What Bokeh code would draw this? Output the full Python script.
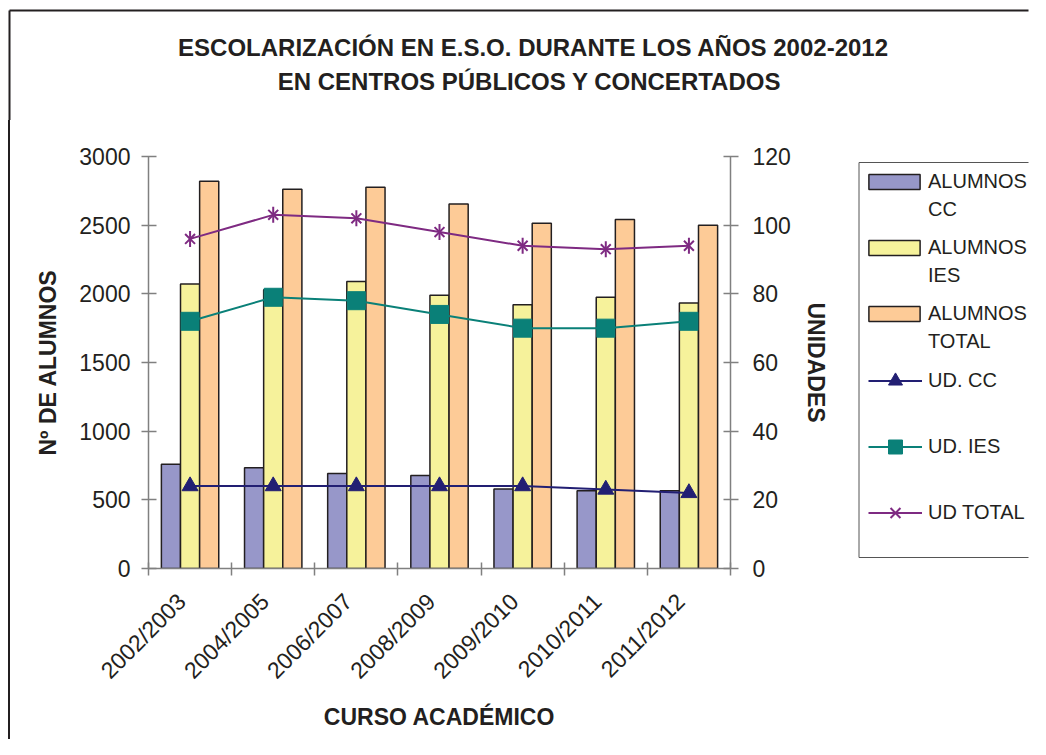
import math
from bokeh.plotting import figure
from bokeh.layouts import column, row
from bokeh.models import (Range1d, LinearAxis, FixedTicker, Legend, LegendItem,
                          Label, ColumnDataSource, FactorRange)
from bokeh.transform import dodge
from bokeh.embed import file_html
from bokeh.resources import INLINE

# ---------------- data ----------------
cursos = ["2002/2003", "2004/2005", "2006/2007", "2008/2009",
          "2009/2010", "2010/2011", "2011/2012"]
alumnos_cc = [760, 733, 692, 678, 578, 566, 566]
alumnos_ies = [2072, 2030, 2089, 1989, 1921, 1975, 1933]
alumnos_total = [2820, 2762, 2776, 2655, 2514, 2541, 2499]
ud_cc = [24, 24, 24, 24, 24, 23, 22]
ud_ies = [72, 79, 78, 74, 70, 70, 72]
ud_total = [96, 103, 102, 98, 94, 93, 94]
left_ticks = [0, 500, 1000, 1500, 2000, 2500, 3000]
right_ticks = [0, 20, 40, 60, 80, 100, 120]

FONT = "Liberation Sans"
TXT = "#231F20"
AX = "#808080"
C_CC_BAR, C_IES_BAR, C_TOT_BAR = "#9797C9", "#F6F29B", "#FDCB97"
C_CC, C_IES, C_TOT = "#221F73", "#0A8078", "#7E2A82"

src = ColumnDataSource(dict(curso=cursos, cc=alumnos_cc, ies=alumnos_ies,
                            total=alumnos_total, ud_cc=ud_cc, ud_ies=ud_ies,
                            ud_total=ud_total))

W, H_TOP, H_MAIN, W_MAIN = 1030, 120, 619, 850
BORDER_TOP, BORDER_BOTTOM = 36, 171
FRAME_H = H_MAIN - BORDER_TOP - BORDER_BOTTOM
W_LEG = W - W_MAIN

# layout decoration (pixel positions of the outer chart frame and the legend frame)
OUTER_X, OUTER_Y = 9, 10
LEG_X, LEG_TOP, LEG_BOTTOM = 8.5, 6, 401

# ---------------- title strip ----------------
top = figure(width=W, height=H_TOP, x_range=Range1d(0, W), y_range=Range1d(H_TOP, 0),
             x_axis_type=None, y_axis_type=None, output_backend="svg",
             toolbar_location=None, min_border=0)
top.outline_line_color = None
top.grid.visible = False
top.background_fill_color = None
top.border_fill_color = None
for txt, x, y in [("ESCOLARIZACIÓN EN E.S.O. DURANTE LOS AÑOS 2002-2012", 533, 47),
                  ("EN CENTROS PÚBLICOS Y CONCERTADOS", 529, 81)]:
    top.add_layout(Label(x=x, y=y, text=txt, text_align="center", text_baseline="middle",
                         text_font=FONT, text_font_size="24px", text_font_style="bold",
                         text_color=TXT))
# outer chart frame: top and left edges (the others lie beyond the picture)
top.multi_line(xs=[[OUTER_X, W - 2], [OUTER_X, OUTER_X]],
               ys=[[OUTER_Y, OUTER_Y], [OUTER_Y, H_TOP]],
               line_color=TXT, line_width=2)

# ---------------- main chart ----------------
p = figure(width=W_MAIN, height=H_MAIN,
           x_range=FactorRange(factors=cursos, range_padding=0),
           y_range=Range1d(0, 3000),
           x_axis_type=None, y_axis_type=None,
           output_backend="svg", toolbar_location=None,
           min_border_left=148, min_border_right=W_MAIN - 730,
           min_border_top=BORDER_TOP, min_border_bottom=BORDER_BOTTOM)
p.extra_y_ranges = {"ud": Range1d(0, 120)}
p.outline_line_color = None
p.grid.visible = False
p.background_fill_color = "white"
p.border_fill_color = None

bar_kw = dict(width=0.23, line_color=TXT, line_width=1.5, source=src)
p.vbar(x=dodge("curso", -0.23, range=p.x_range), top="cc", fill_color=C_CC_BAR, **bar_kw)
p.vbar(x=dodge("curso", 0.0, range=p.x_range), top="ies", fill_color=C_IES_BAR, **bar_kw)
p.vbar(x=dodge("curso", 0.23, range=p.x_range), top="total", fill_color=C_TOT_BAR, **bar_kw)

p.line("curso", "ud_cc", y_range_name="ud", color=C_CC, line_width=2, source=src)
p.scatter("curso", "ud_cc", y_range_name="ud", marker="triangle", size=16, color=C_CC, source=src)
p.line("curso", "ud_ies", y_range_name="ud", color=C_IES, line_width=2, source=src)
p.scatter("curso", "ud_ies", y_range_name="ud", marker="square", size=18, color=C_IES, source=src)
p.line("curso", "ud_total", y_range_name="ud", color=C_TOT, line_width=2, source=src)
p.scatter("curso", "ud_total", y_range_name="ud", marker="x", size=14,
          line_color=C_TOT, line_width=2, source=src)
p.scatter("curso", "ud_total", y_range_name="ud", marker="dash", size=16,
          angle=math.pi / 2, line_color=C_TOT, line_width=2, source=src)


def style_axis(ax):
    ax.axis_line_color = AX
    ax.axis_line_width = 1.5
    ax.major_tick_line_color = AX
    ax.major_tick_line_width = 1.5
    ax.minor_tick_line_color = AX
    ax.minor_tick_line_width = 1.5
    ax.major_label_text_font = FONT
    ax.major_label_text_font_size = "23px"
    ax.major_label_text_color = TXT
    ax.axis_label_text_font = FONT
    ax.axis_label_text_font_size = "23px"
    ax.axis_label_text_font_style = "bold"
    ax.axis_label_text_color = TXT


ax_left = LinearAxis(ticker=FixedTicker(ticks=left_ticks, minor_ticks=[]),
                     axis_label="Nº DE ALUMNOS")
style_axis(ax_left)
ax_left.major_tick_in = 8
ax_left.major_tick_out = 7
ax_left.major_label_standoff = 11
ax_left.axis_label_standoff = 15
p.add_layout(ax_left, "left")

ax_right = LinearAxis(y_range_name="ud", ticker=FixedTicker(ticks=right_ticks, minor_ticks=[]),
                      axis_label="UNIDADES")
style_axis(ax_right)
ax_right.major_tick_in = 7
ax_right.major_tick_out = 8
ax_right.major_label_standoff = 14
ax_right.axis_label_standoff = 9
p.add_layout(ax_right, "right")

label_pos = [i + 0.4 for i in range(len(cursos))]
bounds = [float(i) for i in range(len(cursos) + 1)]
ax_x = LinearAxis(ticker=FixedTicker(ticks=label_pos, minor_ticks=bounds),
                  major_label_overrides={c: lab for c, lab in zip(label_pos, cursos)},
                  axis_label="CURSO ACADÉMICO")
style_axis(ax_x)
ax_x.major_tick_in = 0
ax_x.major_tick_out = 0
ax_x.minor_tick_in = 6
ax_x.minor_tick_out = 7
ax_x.major_label_orientation = math.pi / 4
ax_x.major_label_standoff = 22
ax_x.axis_label_standoff = 8
p.add_layout(ax_x, "below")

# ---------------- legend panel ----------------
lg = figure(width=W_LEG, height=H_MAIN, x_range=Range1d(0, W_LEG), y_range=Range1d(FRAME_H, 0),
            x_axis_type=None, y_axis_type=None, output_backend="svg",
            toolbar_location=None, min_border_left=0, min_border_right=0,
            min_border_top=BORDER_TOP, min_border_bottom=BORDER_BOTTOM)
lg.outline_line_color = None
lg.grid.visible = False
lg.background_fill_color = "white"
lg.border_fill_color = None
# legend frame: left, top and bottom edges (its right edge lies beyond the picture)
lg.multi_line(xs=[[LEG_X, LEG_X], [LEG_X, W_LEG - 2], [LEG_X, W_LEG - 2]],
              ys=[[LEG_TOP, LEG_BOTTOM], [LEG_TOP, LEG_TOP], [LEG_BOTTOM, LEG_BOTTOM]],
              line_color="#555555", line_width=1)

# legend-only renderers (hidden), styled like the chart's ones
bk = dict(width=1, line_color=TXT, line_width=1.5, source=src, visible=False)
d_cc = lg.vbar(x="ud_cc", top="cc", fill_color=C_CC_BAR, **bk)
d_ies = lg.vbar(x="ud_ies", top="ies", fill_color=C_IES_BAR, **bk)
d_tot = lg.vbar(x="ud_total", top="total", fill_color=C_TOT_BAR, **bk)
d_blank = lg.line("ud_cc", "cc", line_alpha=0, source=src, visible=False)
dl_cc = lg.line("ud_cc", "cc", color=C_CC, line_width=2, source=src, visible=False)
dm_cc = lg.scatter("ud_cc", "cc", marker="triangle", color=C_CC, source=src, visible=False)
dl_ies = lg.line("ud_ies", "ies", color=C_IES, line_width=2, source=src, visible=False)
dm_ies = lg.scatter("ud_ies", "ies", marker="square", color=C_IES, source=src, visible=False)
dl_tot = lg.line("ud_total", "total", color=C_TOT, line_width=2, source=src, visible=False)
dm_tot1 = lg.scatter("ud_total", "total", marker="x", line_color=C_TOT, line_width=2,
                     source=src, visible=False)
dm_tot2 = lg.scatter("ud_total", "total", marker="dash", angle=math.pi / 2, line_color=C_TOT,
                     line_width=2, source=src, visible=False)


def style_legend(leg):
    leg.border_line_color = None
    leg.background_fill_alpha = 0
    leg.label_text_font = FONT
    leg.label_text_font_size = "20px"
    leg.label_text_color = TXT
    leg.padding = 0
    leg.margin = 0


# one legend per bar series: swatch beside the first line, second line below it
for first, second, rend, ypos in [("ALUMNOS", "CC", d_cc, 347),
                                  ("ALUMNOS", "IES", d_ies, 281),
                                  ("ALUMNOS", "TOTAL", d_tot, 215)]:
    lb = Legend(items=[LegendItem(label=first, renderers=[rend]),
                       LegendItem(label=second, renderers=[d_blank])],
                location=(12, ypos))
    style_legend(lb)
    lb.glyph_width = 64
    lb.glyph_height = 19
    lb.label_standoff = 2
    lb.spacing = 5
    lg.add_layout(lb, "center")

leg2 = Legend(items=[LegendItem(label="UD. CC", renderers=[dl_cc, dm_cc]),
                     LegendItem(label="UD. IES", renderers=[dl_ies, dm_ies]),
                     LegendItem(label="UD TOTAL", renderers=[dl_tot, dm_tot1, dm_tot2])],
              location=(18, 38))
style_legend(leg2)
leg2.glyph_width = 54
leg2.glyph_height = 35
leg2.label_standoff = 6
leg2.spacing = 31
lg.add_layout(leg2, "center")

body = row(p, lg, spacing=0)
# left edge of the outer chart frame below the title strip
body.styles = {
    "background-image": "linear-gradient(#231F20, #231F20)",
    "background-size": "2px 100%",
    "background-position": "8px 0px",
    "background-repeat": "no-repeat",
}
layout = column(top, body, spacing=0)

open("out.html", "w").write(file_html(layout, INLINE))
